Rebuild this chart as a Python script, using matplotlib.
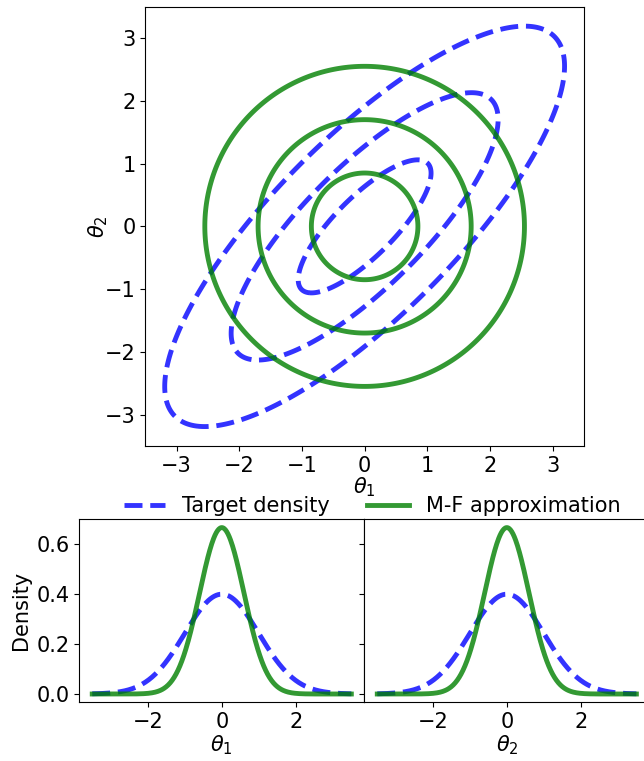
import numpy as np
import matplotlib
matplotlib.use("Agg")
import matplotlib.pyplot as plt

# target: correlated gaussian, M-F approximation: independent gaussians
target_sd = 1.0
target_rho = 0.8
mf_sd = 0.6
# contour levels (mahalanobis radius for target, plain radius for M-F circles)
target_levels = [1.06, 2.13, 3.19]
mf_levels = [0.85, 1.70, 2.55]
lim = 3.5

blue = 'b'
green = 'g'
LW = 3.5
FS = 15

plt.rcParams['font.size'] = FS

fig = plt.figure(figsize=(6.44, 7.61), dpi=100)
ax = fig.add_axes([0.2256, 0.4139, 0.6812, 0.5773])
ax_l = fig.add_axes([0.1231, 0.0771, 0.4426, 0.2405])
ax_r = fig.add_axes([0.5657, 0.0771, 0.4426, 0.2405], sharey=ax_l)

#***joint contours
g = np.linspace(-lim, lim, 600)
X, Y = np.meshgrid(g, g)
Zt = np.sqrt((X**2 - 2*target_rho*X*Y + Y**2) / (target_sd**2 * (1 - target_rho**2)))
Zm = np.sqrt(X**2 + Y**2)
ax.contour(X, Y, Zt, levels=target_levels, colors=blue, alpha=0.8,
           linewidths=LW, linestyles='dashed')
ax.contour(X, Y, Zm, levels=mf_levels, colors=green, alpha=0.8,
           linewidths=LW, linestyles='solid')
ax.set_xlim(-lim, lim)
ax.set_ylim(-lim, lim)
ax.set_xticks([-3, -2, -1, 0, 1, 2, 3])
ax.set_yticks([-3, -2, -1, 0, 1, 2, 3])
ax.set_xlabel(r'$\theta_1$', labelpad=0)
ax.set_ylabel(r'$\theta_2$', labelpad=-4)

#***marginals
x = np.linspace(-lim, lim, 400)
def norm_pdf(x, sd):
    return np.exp(-0.5 * (x / sd)**2) / (sd * np.sqrt(2 * np.pi))

for a, lab in [(ax_l, r'$\theta_1$'), (ax_r, r'$\theta_2$')]:
    a.plot(x, norm_pdf(x, target_sd), '--', color=blue, alpha=0.8, lw=LW,
           label='Target density')
    a.plot(x, norm_pdf(x, mf_sd), '-', color=green, alpha=0.8, lw=LW,
           label='M-F approximation')
    a.set_xticks([-2, 0, 2])
    a.set_xlabel(lab, labelpad=1)
ax_l.set_ylabel('Density')
ax_l.set_yticks([0.0, 0.2, 0.4, 0.6])
plt.setp(ax_r.get_yticklabels(), visible=False)

h, l = ax_l.get_legend_handles_labels()
fig.legend(h, l, loc='center', ncol=2, frameon=False,
           bbox_to_anchor=(372/644, 1 - 506/761), borderaxespad=0,
           columnspacing=1.8)

fig.savefig('out.png', dpi=100)
